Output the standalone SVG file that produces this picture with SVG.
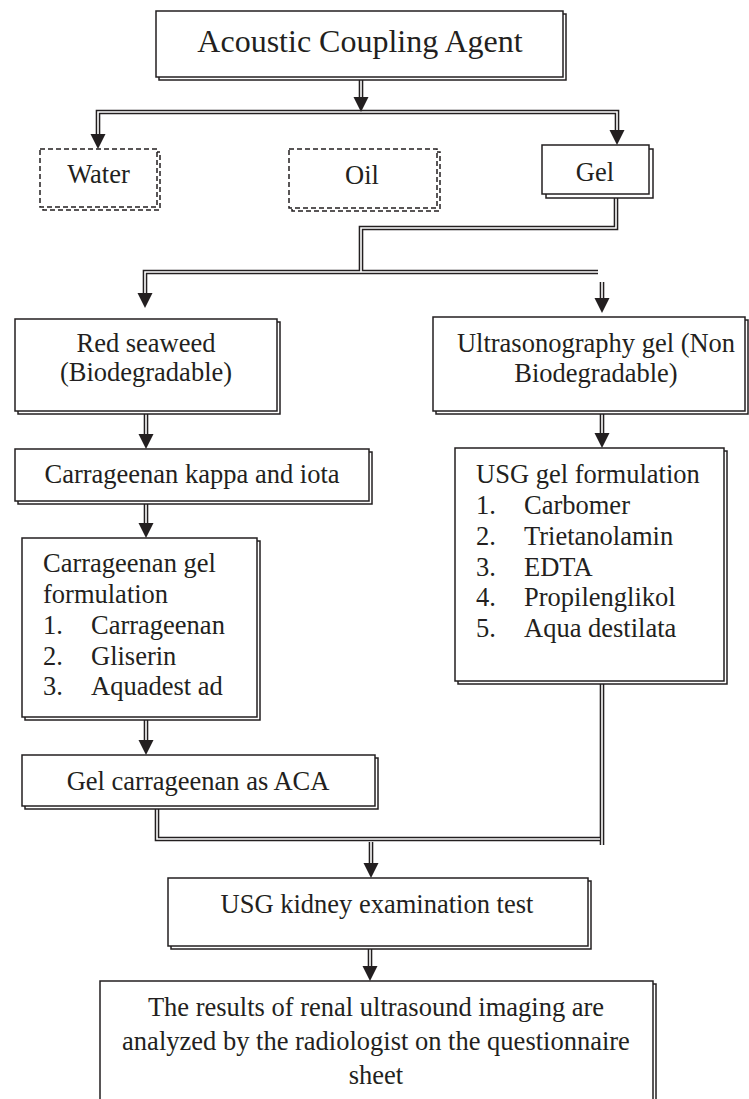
<svg xmlns="http://www.w3.org/2000/svg" xmlns:xlink="http://www.w3.org/1999/xlink" width="749" height="1099" viewBox="0 0 749 1099">
  <style>
    text { font-family: "Liberation Serif", "Times New Roman", serif; font-size: 26.5px; fill: #231f20; }
    .title { font-size: 32px; }
    .c { text-anchor: middle; }
    .box { fill: #fff; stroke: #231f20; stroke-width: 1.5; }
    .shadow { fill: #fff; stroke: #231f20; stroke-width: 1.5; }
    .dash { stroke-dasharray: 5 3; }
    .outer { fill: none; stroke: #231f20; stroke-width: 4.6; stroke-linejoin: miter; }
    .inner { fill: none; stroke: #fff; stroke-width: 1.6; stroke-linejoin: miter; }
    .head { fill: #231f20; }
  </style>
  <defs>
    <!-- arrowhead with its tip at the origin, pointing down -->
    <path id="ah" d="M-7.5,-15 L7.5,-15 L0,0 Z"/>
  </defs>

  <rect width="749" height="1099" fill="#fff"/>

  <!-- connectors: drawn as a dark wide stroke with a white core for the double line -->
  <g id="connectors">
    <g class="outer">
      <path d="M361,77 V98"/>
      <path d="M98,136 V112 H617 V132"/>
      <path d="M616,194 V228 H361 V272"/>
      <path d="M145,295 V272 H598"/>
      <path d="M602,282 V300"/>
      <path d="M146,411 V435"/>
      <path d="M146,501 V525"/>
      <path d="M602,411 V435"/>
      <path d="M146,717 V742"/>
      <path d="M157,806 V839 H600"/>
      <path d="M602,681 V845"/>
      <path d="M371,842 V865"/>
      <path d="M370,946 V968"/>
    </g>
    <g class="inner">
      <path d="M361,77 V98"/>
      <path d="M98,136 V112 H617 V132"/>
      <path d="M616,194 V228 H361 V272"/>
      <path d="M145,295 V272 H598"/>
      <path d="M602,282 V300"/>
      <path d="M146,411 V435"/>
      <path d="M146,501 V525"/>
      <path d="M602,411 V435"/>
      <path d="M146,717 V742"/>
      <path d="M157,806 V839 H600"/>
      <path d="M602,681 V845"/>
      <path d="M371,842 V865"/>
      <path d="M370,946 V968"/>
    </g>
    <g class="head">
      <use xlink:href="#ah" x="361" y="112"/>
      <use xlink:href="#ah" x="98" y="149"/>
      <use xlink:href="#ah" x="617" y="145"/>
      <use xlink:href="#ah" x="145" y="308"/>
      <use xlink:href="#ah" x="602" y="313"/>
      <use xlink:href="#ah" x="146" y="449"/>
      <use xlink:href="#ah" x="146" y="538"/>
      <use xlink:href="#ah" x="602" y="448"/>
      <use xlink:href="#ah" x="146" y="755"/>
      <use xlink:href="#ah" x="371" y="878"/>
      <use xlink:href="#ah" x="370" y="981"/>
    </g>
  </g>

  <g id="acoustic-coupling-agent">
    <rect class="shadow" x="159" y="14" width="407" height="66"/>
    <rect class="box" x="156" y="11" width="407" height="66"/>
    <text class="title c" x="360" y="52">Acoustic Coupling Agent</text>
  </g>

  <g id="water">
    <rect class="shadow dash" x="43" y="152" width="117" height="58"/>
    <rect class="box dash" x="40" y="149" width="117" height="58"/>
    <text class="c" x="98.5" y="183">Water</text>
  </g>

  <g id="oil">
    <rect class="shadow dash" x="292" y="152" width="148" height="59"/>
    <rect class="box dash" x="289" y="149" width="148" height="59"/>
    <text class="c" x="362" y="184">Oil</text>
  </g>

  <g id="gel">
    <rect class="shadow" x="546" y="149" width="107" height="49"/>
    <rect class="box" x="542" y="145" width="107" height="49"/>
    <text class="c" x="595" y="181">Gel</text>
  </g>

  <g id="red-seaweed">
    <rect class="shadow" x="18" y="322" width="262" height="92"/>
    <rect class="box" x="15" y="319" width="262" height="92"/>
    <text class="c" x="146" y="352">Red seaweed</text>
    <text class="c" x="146" y="381">(Biodegradable)</text>
  </g>

  <g id="ultrasonography-gel">
    <rect class="shadow" x="436" y="320" width="312" height="94"/>
    <rect class="box" x="433" y="317" width="312" height="94"/>
    <text class="c" x="596" y="352">Ultrasonography gel (Non</text>
    <text class="c" x="596" y="382">Biodegradable)</text>
  </g>

  <g id="carrageenan-kappa-iota">
    <rect class="shadow" x="18" y="452" width="354" height="52"/>
    <rect class="box" x="15" y="449" width="354" height="52"/>
    <text class="c" x="192" y="483">Carrageenan kappa and iota</text>
  </g>

  <g id="usg-gel-formulation">
    <rect class="shadow" x="458" y="451" width="269" height="233"/>
    <rect class="box" x="455" y="448" width="269" height="233"/>
    <text x="476" y="483">USG gel formulation</text>
    <text x="476" y="514">1.</text><text x="524" y="514">Carbomer</text>
    <text x="476" y="545">2.</text><text x="524" y="545">Trietanolamin</text>
    <text x="476" y="576">3.</text><text x="524" y="576">EDTA</text>
    <text x="476" y="606">4.</text><text x="524" y="606">Propilenglikol</text>
    <text x="476" y="637">5.</text><text x="524" y="637">Aqua destilata</text>
  </g>

  <g id="carrageenan-gel-formulation">
    <rect class="shadow" x="25" y="541" width="235" height="179"/>
    <rect class="box" x="22" y="538" width="235" height="179"/>
    <text x="43" y="572">Carrageenan gel</text>
    <text x="43" y="603">formulation</text>
    <text x="43" y="634">1.</text><text x="91" y="634">Carrageenan</text>
    <text x="43" y="665">2.</text><text x="91" y="665">Gliserin</text>
    <text x="43" y="695">3.</text><text x="91" y="695">Aquadest ad</text>
  </g>

  <g id="gel-carrageenan-aca">
    <rect class="shadow" x="25" y="758" width="353" height="51"/>
    <rect class="box" x="22" y="755" width="353" height="51"/>
    <text class="c" x="198" y="790">Gel carrageenan as ACA</text>
  </g>

  <g id="usg-kidney-test">
    <rect class="shadow" x="171" y="881" width="420" height="68"/>
    <rect class="box" x="168" y="878" width="420" height="68"/>
    <text class="c" x="377" y="913">USG kidney examination test</text>
  </g>

  <g id="radiologist-results">
    <rect class="shadow" x="103" y="984" width="553" height="140"/>
    <rect class="box" x="100" y="981" width="553" height="140"/>
    <text class="c" x="376" y="1016">The results of renal ultrasound imaging are</text>
    <text class="c" x="376" y="1050">analyzed by the radiologist on the questionnaire</text>
    <text class="c" x="376" y="1084">sheet</text>
  </g>
</svg>
